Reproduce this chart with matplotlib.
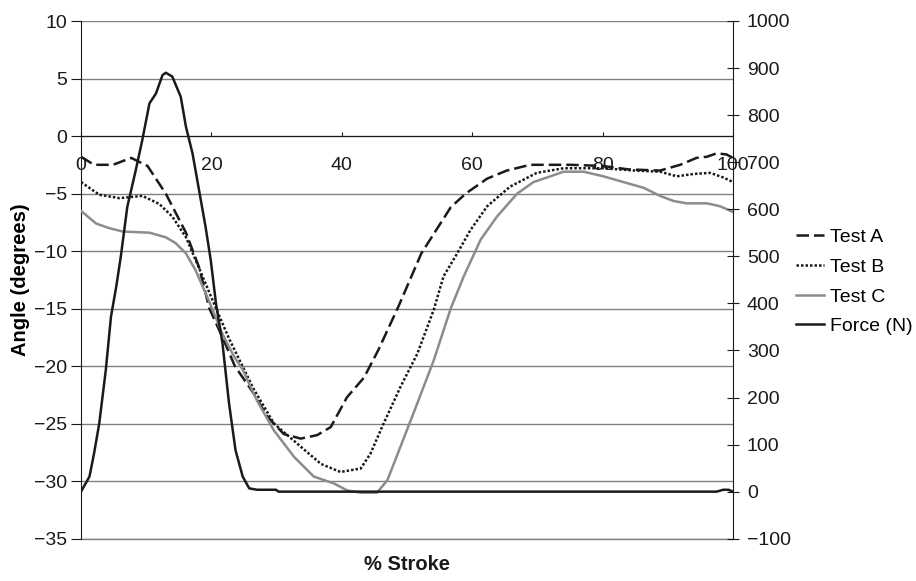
import matplotlib
matplotlib.use('Agg')
import matplotlib.pyplot as plt
from matplotlib.lines import Line2D

plt.rcParams['font.family'] = ['Liberation Sans', 'DejaVu Sans']

# angle traces, % stroke vs degrees
a_x = [0, 2, 4.9, 7.7, 10.2, 13, 14, 16.1, 18.1, 19.7, 21.7, 23.6, 26.4, 28.6, 31.1,
       33.7, 36.2, 38.3, 40.8, 43.4, 45.6, 48.7, 52.2, 56.7, 59, 62.3, 65.3, 68.9,
       75, 80, 84, 88.8, 91.9, 94.4, 96, 97.5, 99, 100]
a_y = [-1.8, -2.5, -2.5, -1.9, -2.6, -5.0, -6.1, -8.4, -11.4, -15.0, -17.5, -20.0,
       -22.3, -24.4, -25.9, -26.3, -26.0, -25.3, -22.7, -21.0, -18.6, -14.8, -10.2,
       -6.2, -5.0, -3.7, -3.0, -2.5, -2.5, -2.6, -2.9, -3.0, -2.5, -1.9, -1.8, -1.5,
       -1.6, -1.9]

b_x = [0, 2.8, 5.9, 9.4, 12, 14, 16.1, 18.2, 20.2, 22.7, 26.4, 29.6, 33.7, 36.8, 39.8,
       42.9, 44.4, 46.4, 49, 51.6, 54.1, 55.6, 57.7, 59.7, 62.3, 65.8, 69.9, 74, 80,
       85, 88.8, 91.4, 93.9, 96.5, 98.5, 100]
b_y = [-4.0, -5.1, -5.4, -5.2, -5.9, -7.0, -8.8, -11.6, -14.3, -17.6, -21.9, -25.0,
       -27.0, -28.5, -29.2, -28.9, -27.6, -25.0, -21.8, -18.9, -15.1, -12.2, -10.2,
       -8.2, -6.1, -4.4, -3.2, -2.8, -2.8, -3.0, -3.1, -3.5, -3.3, -3.2, -3.6, -4.0]

c_x = [0, 2.3, 4.3, 6.4, 10.5, 13, 14.5, 16.1, 17.6, 19.6, 21.7, 23.5, 24.8, 27, 29.6,
       32.7, 35.7, 38.8, 40.8, 42.9, 45.4, 47, 49, 51.6, 54.1, 56.7, 58.7, 61.3, 63.8,
       66.9, 69.4, 72, 74, 77.1, 80.1, 83.2, 86.3, 88.8, 90.9, 92.9, 96, 98, 100]
c_y = [-6.5, -7.6, -8.0, -8.3, -8.4, -8.8, -9.3, -10.2, -11.7, -14.3, -17.2, -19.2,
       -20.3, -23.0, -25.6, -27.9, -29.6, -30.2, -30.8, -31.0, -31.0, -29.9, -27.0,
       -23.2, -19.5, -15.0, -12.2, -9.0, -7.0, -5.0, -4.0, -3.5, -3.1, -3.1, -3.5,
       -4.0, -4.5, -5.2, -5.65, -5.85, -5.85, -6.1, -6.6]

# force trace on the right axis (N)
f_x = [0, 1.3, 2, 2.8, 3.8, 4.6, 5.4, 6.1, 7.1, 8.4, 9.4, 10.5, 11.5, 12.5, 13, 14,
       15.3, 16.1, 17.1, 18.1, 19.1, 19.9, 20.7, 21.7, 22.7, 23.7, 24.8, 25.8, 27,
       29.9, 30.3, 97.5, 98.5, 99.3, 100]
f_y = [0, 32, 81, 145, 258, 372, 435, 499, 605, 683, 747, 825, 846, 885, 890, 882,
       839, 775, 719, 641, 563, 492, 400, 315, 188, 88, 32, 7, 4, 4, 0, 0, 4, 4, 0]

x_ticks = [0, 20, 40, 60, 80, 100]
left_ticks = list(range(-35, 11, 5))
right_ticks = list(range(-100, 1001, 100))

GRID = '#808080'; INK = '#1a1a1a'; GREY = '#8c8c8c'
FS = 14

fig = plt.figure(figsize=(9.16, 5.81), dpi=100)
ax = fig.add_axes([81 / 916, 1 - 538.7 / 581, (733 - 81) / 916, (538.7 - 21) / 581])

ax.plot(a_x, a_y, color=INK, lw=1.8, ls=(0, (5, 2)), zorder=3)
ax.plot(b_x, b_y, color=INK, lw=1.8, ls=(0, (1, 0.8)), zorder=3)
ax.plot(c_x, c_y, color=GREY, lw=1.8, zorder=3)

ax.set_xlim(0, 100); ax.set_ylim(-35, 10)
ax.set_xticks(x_ticks); ax.set_yticks(left_ticks)
ax.yaxis.grid(True, color=GRID, lw=1)
ax.axhline(-35, color=GRID, lw=1, clip_on=False, zorder=1)
ax.set_axisbelow(True)
ax.spines['top'].set_visible(False)
ax.spines['right'].set_visible(False)
ax.spines['bottom'].set_position(('data', 0))
ax.spines['bottom'].set_color(INK)
ax.spines['left'].set_color(INK)
ax.tick_params(axis='x', direction='in', length=3, pad=15, labelsize=FS, colors=INK)
ax.tick_params(axis='y', direction='out', length=7, pad=3, labelsize=FS, colors=INK)
ax.set_ylabel('Angle (degrees)', fontsize=14.5, fontweight='bold', labelpad=3)
ax.text(0.5, -0.05, '% Stroke', transform=ax.transAxes, ha='center', va='center',
        fontsize=14.5, fontweight='bold', color=INK)

ax2 = ax.twinx()
ax2.plot(f_x, f_y, color=INK, lw=1.8, zorder=4)
ax2.set_ylim(-100, 1000); ax2.set_yticks(right_ticks)
for s in ('top', 'bottom', 'left'):
    ax2.spines[s].set_visible(False)
ax2.spines['right'].set_color(INK)
ax2.tick_params(axis='y', direction='inout', length=8, pad=6, labelsize=FS, colors=INK)

handles = [Line2D([], [], color=INK, lw=1.8, ls=(0, (5, 2))),
           Line2D([], [], color=INK, lw=1.8, ls=(0, (1, 0.8))),
           Line2D([], [], color=GREY, lw=1.8),
           Line2D([], [], color=INK, lw=1.8)]
fig.legend(handles, ['Test A', 'Test B', 'Test C', 'Force (N)'], loc='center left',
           bbox_to_anchor=(796 / 916, 1 - 282 / 581), frameon=False, fontsize=FS,
           handlelength=1.45, handletextpad=0.3, labelspacing=0.62, borderpad=0,
           borderaxespad=0)

fig.savefig('out.png', dpi=100)
